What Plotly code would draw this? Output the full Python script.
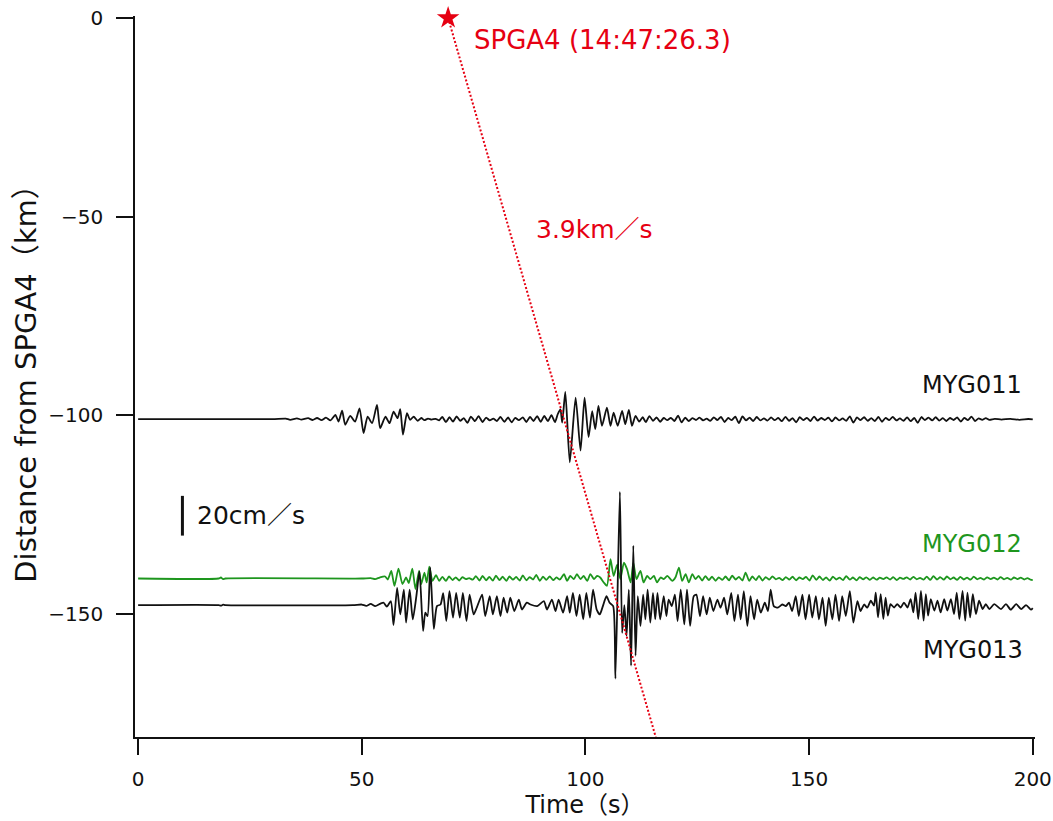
import plotly.graph_objects as go

# Station records: (time s, ground velocity cm/s) picked at the peaks and troughs
MYG011_WAVE = [
    (0, 0), (30, 0), (33, 0.3), (34, -0.3), (35.5, 0.4), (36.5, -0.2), (38, 0.5), (39, -0.4),
    (40, 0.6), (41, -0.5), (42, 0.8), (43, -0.6), (44.1, 2.2), (44.8, -1.2), (45.6, 4.3),
    (46.3, -2.8), (47.4, 1.7), (48.5, -1.2), (49.5, 5.5), (50.4, -7), (51.3, 1.3), (52.3, -2),
    (53.4, 7.2), (54.1, -4.5), (55.3, 1.3), (56.2, -2), (57.1, 3.8), (58.0, 0.5), (58.6, 5),
    (59.2, -7.8), (60.1, 3), (60.8, -0.3), (61.6, 1.3), (62.5, -0.8), (63.3, 0.6), (64.0, -0.5),
    (64.8, 0.3), (65.6, -0.2), (66.5, 0.2), (67.3, -0.6), (68.0, 1.2), (68.8, -1.5), (69.6, 1.0),
    (70.4, -1.2), (71.2, 1.4), (72.0, -0.8), (72.8, 0.5), (73.6, -1.8), (74.4, 1.3), (75.3, -1.0),
    (76.1, 1.6), (77.0, -1.4), (77.8, 0.8), (78.6, -0.6), (79.4, 0.3), (80.2, -0.9), (81.0, 1.1),
    (81.9, -1.3), (82.7, 0.9), (83.5, -1.6), (84.3, 0.7), (85.1, -0.5), (86.0, 0.9), (86.8, -1.4),
    (87.6, 1.2), (88.4, -0.9), (89.2, 1.5), (90.0, -1.3), (90.8, 1.7), (91.6, -1.0), (92.4, 2.0),
    (93.2, -1.5), (93.8, 2.5), (94.4, 5), (94.8, -1.7), (95.5, 13.7), (96.5, -21.7), (97.8, 10.8),
    (98.9, -15.8), (99.8, 10.8), (100.7, -9), (101.5, 4), (102.2, -5), (102.9, 6.7), (103.7, -3.3),
    (104.8, 5.8), (105.6, -3.3), (106.3, 3.3), (107.2, -3.3), (108.2, 4.2), (108.9, -2.5),
    (109.7, 4.7), (110.4, -3.3), (111.2, 1.7), (112.0, -1.2), (112.8, 1.0), (113.5, -1.5),
    (114.3, 1.6), (115.1, -0.8), (115.9, 0.9), (116.7, -1.3), (117.5, 0.6), (118.3, -0.5),
    (119.1, 0.7), (119.9, -0.9), (120.7, 1.8), (121.5, -1.6), (122.3, 0.8), (123.1, -1.0),
    (123.9, 0.5), (124.7, -0.4), (125.5, 0.8), (126.3, -0.6), (127.1, 0.3), (127.9, -0.8),
    (128.7, 0.9), (129.5, -0.4), (130.3, 1.2), (131.1, -1.4), (131.9, 0.6), (132.7, -0.5),
    (133.5, 1.3), (134.3, -2.0), (135.1, 1.4), (135.9, -0.6), (136.7, 0.8), (137.5, -0.9),
    (138.3, 1.1), (139.1, -0.6), (139.9, 0.4), (140.7, -0.7), (141.5, 0.9), (142.3, -0.5),
    (143.1, 0.6), (143.9, -1.0), (144.7, 1.2), (145.5, -0.8), (146.3, 0.5), (147.1, -1.6),
    (147.9, 1.0), (148.7, -0.5), (149.5, 0.7), (150.3, -0.9), (151.1, 1.3), (151.9, -0.7),
    (152.7, 0.6), (153.5, -0.4), (154.3, 0.8), (155.1, -1.1), (155.9, 0.9), (156.7, -0.6),
    (157.5, 0.4), (158.3, -0.8), (159.1, 1.4), (159.9, -1.7), (160.7, 0.9), (161.5, -0.5),
    (162.3, 1.0), (163.1, -0.8), (163.9, 0.5), (164.7, -0.9), (165.5, 1.1), (166.3, -1.3),
    (167.1, 0.7), (167.9, -0.5), (168.7, 1.2), (169.5, -0.6), (170.3, 0.4), (171.1, -0.8),
    (171.9, 0.9), (172.7, -1.0), (173.5, 0.6), (174.3, -1.8), (175.1, 1.1), (175.9, -0.4),
    (176.7, 0.8), (177.5, -0.6), (178.3, 1.0), (179.1, -0.7), (179.9, 0.5), (180.7, -0.9),
    (181.5, 0.6), (182.3, -0.4), (183.1, 0.9), (183.9, -1.2), (184.7, 0.7), (185.5, -0.5),
    (186.3, 1.3), (187.1, -0.9), (187.9, 0.4), (188.7, -0.3), (189.5, 0.5), (190.3, -0.3),
    (191.5, 0.2), (193, -0.2), (195, 0.2), (197, -0.3), (199, 0.1), (200, -0.1),
]

MYG012_WAVE = [
    (0, 0), (18, 0), (18.5, 0.5), (19, -0.3), (19.5, 0), (50, 0), (52, 0.2), (53, -0.3),
    (54, 0.5), (55.2, 1.0), (55.8, -0.5), (56.6, 3.8), (57.3, -3.7), (58.2, 5), (59.1, -2.8),
    (59.9, 0.5), (60.5, -2.3), (61.3, 5), (62.0, -5.3), (62.8, 3.8), (63.3, -2.8), (64.0, 3.0),
    (64.5, -2.0), (65.1, 6), (65.8, -1.2), (66.6, 1.7), (67.3, -1.2), (68.0, 0.8), (68.8, -1.2),
    (69.5, 1.0), (70.3, -0.8), (71.0, 0.6), (71.8, -1.0), (72.5, 0.7), (73.3, -0.3), (74.0, 0.2),
    (74.8, -0.6), (75.5, 1.2), (76.3, -1.0), (77.0, 1.3), (77.8, -0.9), (78.5, 0.8), (79.3, -1.1),
    (80.0, 1.4), (80.8, -0.8), (81.5, 0.9), (82.3, -1.2), (83.0, 1.0), (83.8, -0.6), (84.5, 0.8),
    (85.3, -1.0), (86.0, 1.5), (86.8, -0.9), (87.5, 0.7), (88.3, -0.5), (89.0, 1.8), (89.8, -1.2),
    (90.5, 0.9), (91.3, -0.7), (92.0, 1.1), (92.8, -0.8), (93.5, 0.5), (94.3, -0.5), (95.2, 2.2),
    (95.9, -1.2), (96.6, 1.3), (97.4, -0.3), (98.1, 2.2), (98.9, -0.3), (99.6, 1.3), (100.4, -1.2),
    (101.1, 2.2), (101.9, -0.3), (102.6, 1.3), (103.3, 0.5), (104.1, -2), (104.8, -3.7),
    (105.6, 9.7), (106.3, 1.3), (107.1, 7), (107.8, -0.3), (108.6, 8), (109.3, 4.7), (110.1, -2),
    (110.7, 8), (111.4, -0.3), (112.3, 3.8), (113.0, -2), (113.8, 1.3), (114.5, -0.3), (115.3, 1.3),
    (116.0, -2), (116.8, 0.5), (117.5, -0.3), (118.3, 1.3), (119.4, -1.2), (120.1, 0.5),
    (120.9, 5.5), (121.6, -1.2), (122.4, 2.2), (123.1, -2), (123.9, 2.2), (124.6, -0.3),
    (125.3, 1.3), (126.1, -1.0), (126.8, 1.2), (127.6, -0.8), (128.3, 0.9), (129.1, -1.2),
    (129.8, 0.6), (130.6, -0.7), (131.3, 1.0), (132.1, -0.9), (132.8, 1.4), (133.6, -0.5),
    (134.3, 0.8), (135.1, -1.0), (135.8, 3.0), (136.6, -1.2), (137.3, 1.0), (138.1, -0.8),
    (138.8, 1.3), (139.6, -1.0), (140.3, 0.7), (141.1, -0.6), (141.8, 1.1), (142.6, -0.4),
    (143.3, 0.3), (144.1, -0.8), (144.8, 0.7), (145.6, -0.6), (146.3, 0.9), (147.1, -0.9),
    (147.8, 0.5), (148.6, -0.3), (149.3, 0.8), (150.1, -1.0), (150.8, 1.6), (151.6, -0.7),
    (152.3, 1.0), (153.1, -0.8), (153.8, 0.6), (154.6, -1.1), (155.3, 0.9), (156.1, -0.5),
    (156.8, 0.4), (157.6, -0.8), (158.3, 1.2), (159.1, -0.6), (159.8, 0.5), (160.6, -0.9),
    (161.3, 0.7), (162.1, -0.4), (162.8, 0.6), (163.6, -0.7), (164.3, 0.5), (165.1, -0.6),
    (165.8, 0.4), (166.6, -0.3), (167.3, 0.6), (168.1, -0.5), (168.8, 0.7), (169.6, -0.8),
    (170.3, 0.4), (171.1, -0.2), (171.8, 0.6), (172.6, -0.5), (173.3, 0.8), (174.1, -0.4),
    (174.8, 0.3), (175.6, -0.6), (176.3, 0.9), (177.1, -0.7), (177.8, 1.2), (178.6, -0.5),
    (179.3, 0.7), (180.1, -0.6), (180.8, 1.0), (181.6, -0.4), (182.3, 0.5), (183.1, -0.7),
    (183.8, 0.8), (184.6, -0.5), (185.3, 0.4), (186.1, -0.6), (186.8, 0.9), (187.6, -0.4),
    (188.3, 0.3), (189.1, -0.5), (189.8, 0.6), (190.6, -0.3), (191.3, 0.4), (192.1, -0.5),
    (192.8, 0.7), (193.6, -0.4), (194.3, 0.3), (195.1, -0.6), (195.8, 0.5), (196.6, -0.3),
    (197.3, 0.4), (198.1, -0.5), (198.8, 0.2), (199.5, -0.6), (200, -0.8),
]

MYG013_WAVE = [
    (0, 0), (18, 0), (18.5, -0.3), (19, 0.2), (19.5, 0), (48, 0), (50, 0.3), (51, -0.4),
    (52, 0.6), (53.0, -0.5), (54.2, 0.8), (54.9, 1.2), (55.6, -0.8), (56.5, 2.0), (57.1, -10),
    (57.9, 8.7), (58.6, -4.7), (59.4, 7.8), (59.9, -8.8), (60.7, 7.8), (61.4, -7.2), (62.2, 4.5),
    (62.9, 17), (63.7, -13), (64.2, -3.8), (64.7, -5.5), (65.3, 19), (66.1, -12), (66.8, -0.5),
    (67.6, 0.3), (68.2, 6), (68.9, -8), (69.6, 7), (70.4, -6.3), (71.1, 6.2), (71.9, -6.3),
    (72.6, 6.2), (73.4, -8), (74.1, 5.3), (75.0, -4.7), (75.7, -1.3), (76.9, 5.3), (77.6, -5.5),
    (78.6, 4.5), (79.3, -4.7), (80.2, 4.5), (81.0, -5.5), (81.7, 3.7), (82.5, -3.8), (83.2, 3.7),
    (84.1, -3), (85.1, 2.8), (85.8, -2.2), (86.9, 1.2), (87.7, 0.3), (89.2, -0.5), (90.7, 2),
    (91.4, -2.2), (92.5, 2.8), (93.3, -3), (94.0, 2.8), (95.0, -3.8), (95.9, 4.5), (96.5, -3.8),
    (97.2, 6.2), (98.0, -5.5), (98.7, 5.3), (99.5, -7.2), (100.2, 6.2), (101.0, -6.3),
    (101.7, 7.8), (102.5, -2.2), (103.2, -4.7), (103.9, -0.5), (104.7, 4.5), (105.4, 1.2),
    (106.2, -0.5), (106.7, -37), (107.7, 57), (108.2, -14), (108.7, 0), (109.2, -15.5),
    (109.7, 7.8), (110.2, -30.5), (110.7, 30), (111.2, -25.5), (111.7, 4.5), (112.3, -10.5),
    (112.9, 5.3), (113.4, -7.2), (113.9, 7.8), (114.5, -8.8), (115.1, 6.2), (115.6, -7.2),
    (116.1, 6.2), (116.7, -7.2), (117.5, 4.5), (118.1, -5.5), (118.6, 2.8), (119.3, -0.5),
    (120.0, 5.3), (120.6, -8), (121.3, 7.8), (122.1, -9.7), (122.7, 7.8), (123.4, -10.5),
    (124.2, 4.5), (124.8, 5.3), (125.6, -5.5), (126.3, 4.5), (127.1, -4.7), (127.8, 3.7),
    (128.6, -3), (129.5, 2.8), (130.2, -1.3), (131.0, 3.7), (131.7, -4.7), (132.6, 6.2),
    (133.3, -8), (134.1, 5.3), (134.7, -7.2), (135.4, 7), (136.2, -10.5), (136.9, 4.5),
    (137.7, -7.2), (138.4, 2.8), (139.2, -3.8), (140.1, 1.2), (140.8, -3), (141.4, 7.8),
    (142.1, -0.5), (143.0, -1.3), (144.0, 0.3), (144.8, -0.5), (145.5, 1.2), (146.2, -3),
    (147.0, 4.5), (147.7, -5.5), (148.5, 5.3), (149.2, -7.2), (150.0, 5.3), (150.7, -6.3),
    (151.5, 4.5), (152.2, -7.2), (153.0, 3.7), (153.7, -10.5), (154.4, 3.7), (155.2, -7.2),
    (155.9, 5.3), (156.7, -8), (157.4, 4.5), (158.2, -5.5), (159.1, 7), (159.9, -8.8),
    (160.8, 2), (161.5, -3), (162.3, 0.3), (163.0, -1.3), (163.8, 2.2), (164.5, -0.3),
    (164.9, 6.3), (165.4, -6.2), (166.0, 5.5), (166.6, -7), (167.1, 3.8), (167.6, -5.3),
    (168.2, 0.5), (169.0, -1.2), (169.7, 0.5), (170.5, -1.2), (171.2, 1.3), (172.0, -1.2),
    (172.7, 3), (173.3, -3.7), (173.8, 6.3), (174.4, -7), (175.0, 7.2), (175.6, -7.8),
    (176.1, 5.5), (176.6, -5.3), (177.2, 3), (178.0, -2.8), (178.7, 2.2), (179.4, -3.7),
    (180.2, 3), (180.9, -2.8), (181.7, 3), (182.4, -4.5), (183.0, 6.3), (183.6, -7),
    (184.3, 7.2), (184.9, -7.8), (185.4, 6.3), (186.0, -6.2), (186.6, 5.5), (187.3, -4.5),
    (188.0, 2.2), (188.8, -2), (189.5, 0.5), (190.3, -2), (191.4, 0.5), (192.9, -2),
    (194.0, 0.5), (195.1, -2.3), (196.3, 0.5), (197.4, -2), (198.5, 0), (199.6, -2.3), (200, -1.5),
]

STATIONS = ["MYG011", "MYG012", "MYG013"]
DISTANCES_KM = [-101.0, -141.1, -147.8]
WAVES = [MYG011_WAVE, MYG012_WAVE, MYG013_WAVE]
TRACE_COLORS = ["#111111", "#1e961e", "#111111"]

# label anchors (time s, distance km)
LABEL_POS = [(174.7, -92.4), (174.7, -132.4), (175.1, -159.0)]

KM_PER_CMS = 0.5          # trace gain: 20 cm/s spans 10 km on the distance axis
SCALE_BAR_CMS = 20
SCALE_BAR_T = 9.9
SCALE_BAR_Y = -125.3

SOURCE_NAME = "SPGA4"
SOURCE_TIME_LABEL = "14:47:26.3"
SOURCE_T = 69.3            # origin time on the record time axis (s)
SOURCE_DIST = 0.0
WAVE_SPEED = 3.9           # km/s

X_RANGE = [-0.7, 200.5]
Y_RANGE = [-181.0, 0.5]

RED = "#e60012"
FONT = "DejaVu Sans, Noto Sans CJK JP, sans-serif"
INK = "#111111"

fig = go.Figure()

for name, dist, wave, color in zip(STATIONS, DISTANCES_KM, WAVES, TRACE_COLORS):
    t = [p[0] for p in wave]
    y = [dist + p[1] * KM_PER_CMS for p in wave]
    fig.add_trace(go.Scatter(
        x=t, y=y, mode="lines", name=name,
        line=dict(color=color, width=1.8, shape="spline", smoothing=0.6),
        hoverinfo="skip",
    ))

# travel-time line for the 3.9 km/s wave from the source
y_end = Y_RANGE[0]
t_end = SOURCE_T + (SOURCE_DIST - y_end) / WAVE_SPEED
fig.add_trace(go.Scatter(
    x=[SOURCE_T, t_end], y=[SOURCE_DIST, y_end], mode="lines",
    line=dict(color=RED, width=2, dash="2px,2px"), hoverinfo="skip",
))

# source star
fig.add_trace(go.Scatter(
    x=[SOURCE_T], y=[SOURCE_DIST], mode="markers", cliponaxis=False,
    marker=dict(symbol="star", size=17, color=RED, line=dict(width=0)),
    hoverinfo="skip",
))

# amplitude scale bar
half = SCALE_BAR_CMS * KM_PER_CMS / 2
fig.add_trace(go.Scatter(
    x=[SCALE_BAR_T, SCALE_BAR_T], y=[SCALE_BAR_Y - half, SCALE_BAR_Y + half],
    mode="lines", line=dict(color=INK, width=3), hoverinfo="skip",
))

annotations = []
for name, color, (lx, ly) in zip(STATIONS, TRACE_COLORS, LABEL_POS):
    annotations.append(dict(
        x=lx, y=ly, text=name, showarrow=False, xanchor="left", yanchor="middle",
        font=dict(family=FONT, size=24, color=color),
    ))
annotations += [
    dict(x=74.7, y=-5.5, text=f"{SOURCE_NAME} ({SOURCE_TIME_LABEL})", showarrow=False,
         xanchor="left", yanchor="middle", font=dict(family=FONT, size=26, color=RED)),
    dict(x=88.6, y=-53.3, text=f"{WAVE_SPEED}km／s", showarrow=False,
         xanchor="left", yanchor="middle", font=dict(family=FONT, size=25, color=RED)),
    dict(x=12.8, y=SCALE_BAR_Y, text=f"{SCALE_BAR_CMS}cm／s", showarrow=False,
         xanchor="left", yanchor="middle", font=dict(family=FONT, size=25, color=INK)),
]

fig.update_layout(
    width=1053, height=821,
    margin=dict(l=135, r=18, t=16, b=84),
    paper_bgcolor="white", plot_bgcolor="white",
    showlegend=False,
    font=dict(family=FONT, color=INK),
    annotations=annotations,
)
fig.update_xaxes(
    range=X_RANGE, tickvals=[0, 50, 100, 150, 200], automargin=False,
    showgrid=False, zeroline=False, showline=True, linecolor=INK, linewidth=1.5,
    ticks="outside", ticklen=16, tickwidth=1.5, tickcolor=INK,
    tickfont=dict(family=FONT, size=20, color=INK), ticklabelstandoff=7,
    title=dict(text="Time（s）", font=dict(family=FONT, size=24, color=INK), standoff=2),
)
fig.update_yaxes(
    range=Y_RANGE, tickvals=[0, -50, -100, -150], automargin=False,
    showgrid=False, zeroline=False, showline=True, linecolor=INK, linewidth=1.5,
    ticks="outside", ticklen=17, tickwidth=1.5, tickcolor=INK,
    tickfont=dict(family=FONT, size=20, color=INK), ticklabelstandoff=9,
    title=dict(text="Distance from SPGA4（km）", font=dict(family=FONT, size=29, color=INK),
               standoff=3),
)

fig.write_html("out.html")
